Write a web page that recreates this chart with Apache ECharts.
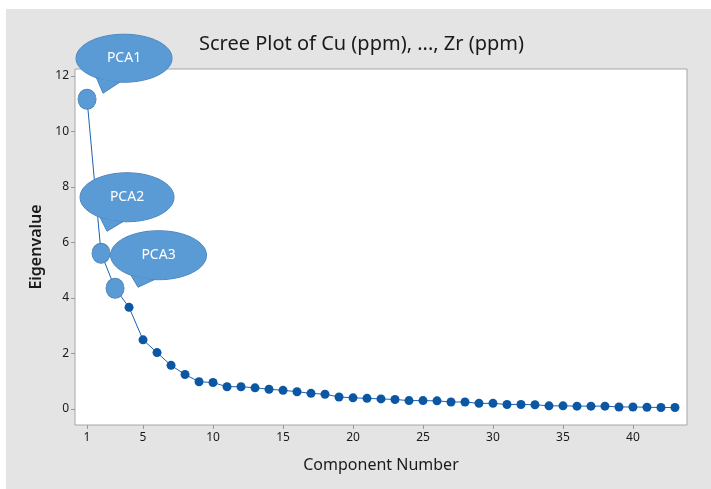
<!DOCTYPE html>
<html>
<head>
<meta charset="utf-8">
<script src="https://cdn.jsdelivr.net/npm/echarts@6/dist/echarts.min.js"></script>
<style>
  html, body { margin: 0; padding: 0; background: #fff; }
  #chart { position: absolute; left: 6px; top: 9px; width: 705px; height: 480px; }
</style>
</head>
<body>
<div id="chart"></div>
<script>
// component numbers and eigenvalues
const components = [
  1, 2, 3, 4, 5, 6, 7, 8, 9, 10, 11, 12, 13, 14, 15, 16, 17, 18, 19, 20, 21, 22,
  23, 24, 25, 26, 27, 28, 29, 30, 31, 32, 33, 34, 35, 36, 37, 38, 39, 40, 41, 42, 43,
];
const eigenvalues = [
  11.16, 5.61, 4.35, 3.66, 2.49, 2.03, 1.57, 1.24, 0.98, 0.95, 0.8, 0.8, 0.76,
  0.71, 0.67, 0.62, 0.56, 0.53, 0.43, 0.4, 0.38, 0.36, 0.34, 0.3, 0.3, 0.29,
  0.25, 0.25, 0.2, 0.2, 0.16, 0.16, 0.15, 0.11, 0.11, 0.1, 0.1, 0.1, 0.07,
  0.07, 0.06, 0.05, 0.05,
];
const xTicks = [1, 5, 10, 15, 20, 25, 30, 35, 40];
const yTicks = [0, 2, 4, 6, 8, 10, 12];

// highlighted components and their callout text
const calloutComponents = [1, 2, 3];
const calloutLabels = ['PCA1', 'PCA2', 'PCA3'];

// callout layout (pixel offsets from the highlighted point)
const calloutLayout = [
  { dx: 37, dy: -41, rx: 48, ry: 24, tipX: 16, tipY: -6 },
  { dx: 26, dy: -56, rx: 47, ry: 24.5, tipX: 6, tipY: -22 },
  { dx: 43.5, dy: -33, rx: 48, ry: 24.5, tipX: 23, tipY: -1 },
];

const bubbleFill = '#5b9bd5';
const bubbleStroke = '#4a84bd';
const pointColor = '#0b57a4';

const chart = echarts.init(document.getElementById('chart'));

const axisText = { color: '#1a1a1a', fontSize: 12, fontFamily: 'Noto Sans' };

chart.setOption({
  backgroundColor: '#e4e4e4',
  animation: false,
  title: {
    text: 'Scree Plot of Cu (ppm), ..., Zr (ppm)',
    left: 188,
    top: 20,
    textStyle: {
      fontFamily: 'Noto Sans',
      fontSize: 20,
      fontWeight: 'normal',
      color: '#1a1a1a',
    },
  },
  grid: {
    left: 69,
    top: 60,
    right: 24,
    bottom: 64,
    show: true,
    backgroundColor: '#fff',
    borderColor: '#a6a6a6',
    borderWidth: 1,
  },
  xAxis: {
    type: 'value',
    min: 0.14,
    max: 43.86,
    name: 'Component Number',
    nameLocation: 'middle',
    nameGap: 32,
    nameTextStyle: { color: '#1a1a1a', fontSize: 16, fontFamily: 'Noto Sans' },
    axisLine: { show: false, onZero: false },
    axisTick: {
      show: true,
      length: 4,
      customValues: xTicks,
      lineStyle: { color: '#999' },
    },
    axisLabel: Object.assign({ customValues: xTicks, margin: 7 }, axisText),
    splitLine: { show: false },
  },
  yAxis: {
    type: 'value',
    min: -0.58,
    max: 12.25,
    name: 'Eigenvalue',
    nameLocation: 'middle',
    nameGap: 30,
    nameTextStyle: {
      color: '#1a1a1a',
      fontSize: 16,
      fontWeight: 600,
      fontFamily: 'Noto Sans',
    },
    axisLine: { show: false, onZero: false },
    axisTick: {
      show: true,
      length: 4,
      customValues: yTicks,
      lineStyle: { color: '#999' },
    },
    axisLabel: Object.assign({ customValues: yTicks, margin: 6 }, axisText),
    splitLine: { show: false },
  },
  series: [
    {
      type: 'line',
      data: components.map((c, i) => [c, eigenvalues[i]]),
      symbol: 'circle',
      symbolSize: 9,
      itemStyle: { color: pointColor },
      lineStyle: { color: '#1c62b0', width: 1 },
      markPoint: {
        symbol: 'circle',
        symbolSize: [18, 20],
        label: { show: false },
        itemStyle: { color: bubbleFill, borderColor: bubbleStroke, borderWidth: 1 },
        data: calloutComponents.map((c) => ({ coord: [c, eigenvalues[c - 1]] })),
      },
    },
  ],
});

// speech-bubble callouts placed from the data points
const graphics = [];
calloutComponents.forEach((c, i) => {
  const p = chart.convertToPixel({ gridIndex: 0 }, [c, eigenvalues[c - 1]]);
  const l = calloutLayout[i];
  const cx = p[0] + l.dx;
  const cy = p[1] + l.dy;
  const a1 = (95 * Math.PI) / 180;
  const a2 = (125 * Math.PI) / 180;
  const tail = [
    [cx + l.rx * Math.cos(a1), cy + l.ry * Math.sin(a1)],
    [p[0] + l.tipX, p[1] + l.tipY],
    [cx + l.rx * Math.cos(a2), cy + l.ry * Math.sin(a2)],
  ];
  graphics.push(
    {
      type: 'ellipse',
      z: 100,
      shape: { cx: cx, cy: cy, rx: l.rx, ry: l.ry },
      style: { fill: bubbleFill, stroke: bubbleStroke, lineWidth: 1 },
    },
    {
      type: 'polygon',
      z: 101,
      shape: { points: tail },
      style: { fill: bubbleFill, stroke: bubbleStroke, lineWidth: 1 },
    },
    {
      type: 'ellipse',
      z: 102,
      shape: { cx: cx, cy: cy, rx: l.rx - 0.5, ry: l.ry - 0.5 },
      style: { fill: bubbleFill },
    },
    {
      type: 'text',
      z: 103,
      x: cx,
      y: cy,
      style: {
        text: calloutLabels[i],
        fill: '#fff',
        font: '14px "Noto Sans"',
        align: 'center',
        verticalAlign: 'middle',
      },
    }
  );
});
chart.setOption({ graphic: graphics });
</script>
</body>
</html>
